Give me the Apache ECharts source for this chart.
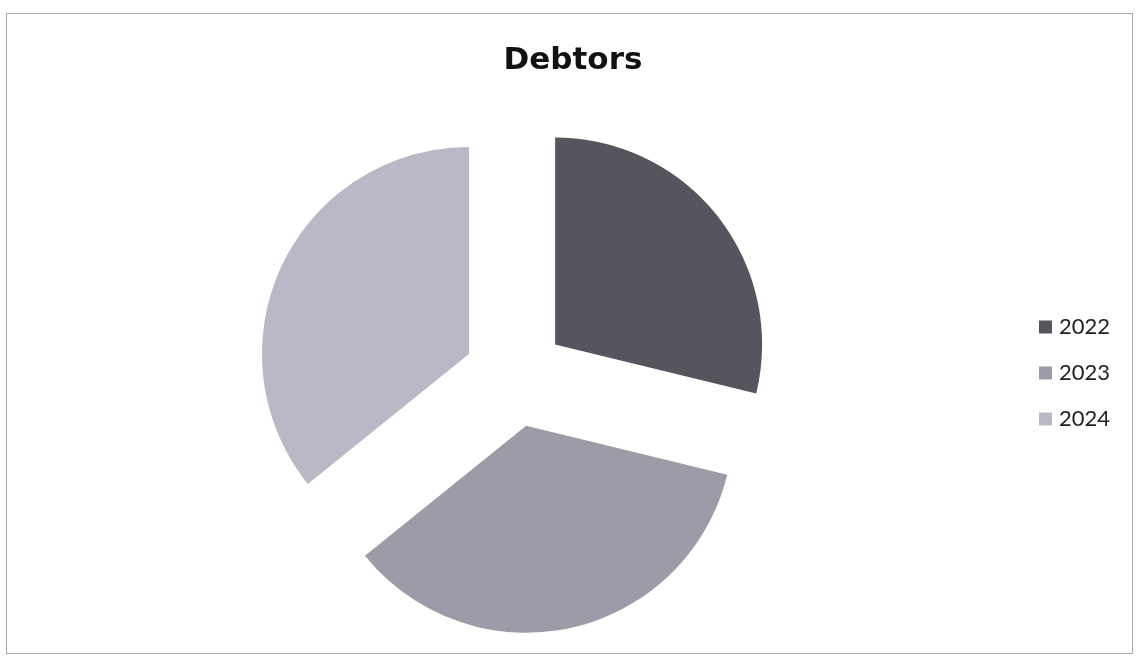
<!DOCTYPE html>
<html>
<head>
<meta charset="utf-8">
<script src="https://cdn.jsdelivr.net/npm/echarts@6/dist/echarts.min.js"></script>
<style>
html,body{margin:0;padding:0;background:#fff;}
#frame{position:absolute;left:6px;top:13px;width:1127px;height:641px;border:1px solid #a8a8a8;box-sizing:border-box;}
#chart{position:absolute;left:0;top:0;width:1139px;height:660px;}
</style>
</head>
<body>
<div id="frame"></div>
<div id="chart"></div>
<script>
const titleText = 'Debtors';
const categories = ['2022', '2023', '2024'];
const values = [28.8, 35.4, 35.8];
const colors = ['#55555e', '#9c9ca8', '#b8b8c6'];

const chart = echarts.init(document.getElementById('chart'));
chart.setOption({
  animation: false,
  backgroundColor: 'transparent',
  title: {
    text: titleText,
    left: 568,
    textAlign: 'center',
    top: 40,
    textStyle: { fontFamily: 'DejaVu Sans', fontWeight: 'bold', fontSize: 31, color: '#111' }
  },
  legend: {
    orient: 'vertical',
    left: 1034,
    top: 311,
    itemWidth: 13,
    itemHeight: 13,
    itemGap: 24,
    icon: 'rect',
    data: categories,
    textStyle: { fontFamily: 'Lato', fontSize: 22, color: '#222', padding: [0, 0, 0, 2] }
  },
  series: [{
    type: 'pie',
    center: [515, 376],
    radius: 207,
    startAngle: 90,
    clockwise: true,
    selectedMode: 'multiple',
    selectedOffset: 51,
    label: { show: false },
    labelLine: { show: false },
    emphasis: { disabled: true },
    itemStyle: { borderWidth: 0 },
    data: categories.map((c, i) => ({
      name: c,
      value: values[i],
      selected: true,
      itemStyle: { color: colors[i] }
    }))
  }]
});
</script>
</body>
</html>
